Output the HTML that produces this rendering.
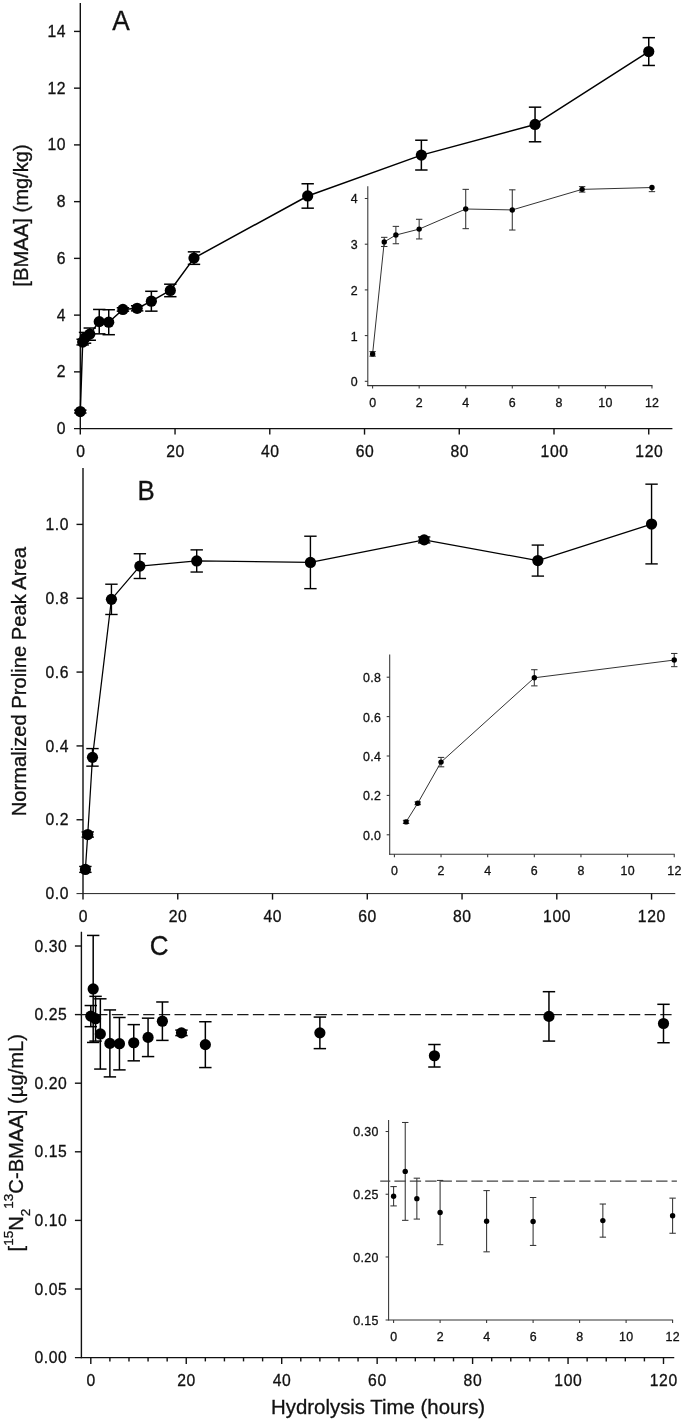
<!DOCTYPE html>
<html lang="en">
<head>
<meta charset="utf-8">
<title>BMAA hydrolysis time course</title>
<style>
html,body{margin:0;padding:0;background:#fff;}
body{width:685px;height:1422px;overflow:hidden;}
svg{display:block;font-family:"Liberation Sans", Arial, Helvetica, sans-serif;}
text{stroke:#111;stroke-width:0.3px;}
</style>
</head>
<body>
<svg width="685" height="1422" viewBox="0 0 685 1422">
<rect x="0" y="0" width="685" height="1422" fill="#fff"/>
<line x1="80.3" y1="3.05" x2="80.3" y2="429.25" stroke="#111" stroke-width="1.4"/>
<line x1="74" y1="428.6" x2="672.42" y2="428.6" stroke="#111" stroke-width="1.4"/>
<text x="65.6" y="434" font-size="15.7" text-anchor="end" fill="#111">0</text>
<line x1="74" y1="371.86" x2="80.3" y2="371.86" stroke="#111" stroke-width="1.4"/>
<text x="65.6" y="377.26" font-size="15.7" text-anchor="end" fill="#111">2</text>
<line x1="74" y1="315.12" x2="80.3" y2="315.12" stroke="#111" stroke-width="1.4"/>
<text x="65.6" y="320.52" font-size="15.7" text-anchor="end" fill="#111">4</text>
<line x1="74" y1="258.38" x2="80.3" y2="258.38" stroke="#111" stroke-width="1.4"/>
<text x="65.6" y="263.78" font-size="15.7" text-anchor="end" fill="#111">6</text>
<line x1="74" y1="201.64" x2="80.3" y2="201.64" stroke="#111" stroke-width="1.4"/>
<text x="65.6" y="207.04" font-size="15.7" text-anchor="end" fill="#111">8</text>
<line x1="74" y1="144.9" x2="80.3" y2="144.9" stroke="#111" stroke-width="1.4"/>
<text x="66.2" y="150.3" font-size="15.7" text-anchor="end" fill="#111" letter-spacing="0.6">10</text>
<line x1="74" y1="88.16" x2="80.3" y2="88.16" stroke="#111" stroke-width="1.4"/>
<text x="66.2" y="93.56" font-size="15.7" text-anchor="end" fill="#111" letter-spacing="0.6">12</text>
<line x1="74" y1="31.42" x2="80.3" y2="31.42" stroke="#111" stroke-width="1.4"/>
<text x="66.2" y="36.82" font-size="15.7" text-anchor="end" fill="#111" letter-spacing="0.6">14</text>
<line x1="80.3" y1="428.6" x2="80.3" y2="434.6" stroke="#111" stroke-width="1.4"/>
<text x="80.6" y="457" font-size="15.7" text-anchor="middle" fill="#111">0</text>
<line x1="175.04" y1="428.6" x2="175.04" y2="434.6" stroke="#111" stroke-width="1.4"/>
<text x="175.64" y="457" font-size="15.7" text-anchor="middle" fill="#111" letter-spacing="0.6">20</text>
<line x1="269.78" y1="428.6" x2="269.78" y2="434.6" stroke="#111" stroke-width="1.4"/>
<text x="270.38" y="457" font-size="15.7" text-anchor="middle" fill="#111" letter-spacing="0.6">40</text>
<line x1="364.52" y1="428.6" x2="364.52" y2="434.6" stroke="#111" stroke-width="1.4"/>
<text x="365.12" y="457" font-size="15.7" text-anchor="middle" fill="#111" letter-spacing="0.6">60</text>
<line x1="459.26" y1="428.6" x2="459.26" y2="434.6" stroke="#111" stroke-width="1.4"/>
<text x="459.86" y="457" font-size="15.7" text-anchor="middle" fill="#111" letter-spacing="0.6">80</text>
<line x1="554" y1="428.6" x2="554" y2="434.6" stroke="#111" stroke-width="1.4"/>
<text x="554.6" y="457" font-size="15.7" text-anchor="middle" fill="#111" letter-spacing="0.6">100</text>
<line x1="648.74" y1="428.6" x2="648.74" y2="434.6" stroke="#111" stroke-width="1.4"/>
<text x="649.34" y="457" font-size="15.7" text-anchor="middle" fill="#111" letter-spacing="0.6">120</text>
<text transform="translate(121.1 30.4) scale(0.99 1.055)" font-size="26.5" text-anchor="middle" fill="#111">A</text>
<text transform="translate(27.6 215.4) rotate(-90)" font-size="20.2" text-anchor="middle" fill="#111">[BMAA] (mg/kg)</text>
<line x1="80.3" y1="410.16" x2="80.3" y2="413" stroke="#000" stroke-width="1.5"/>
<line x1="74.1" y1="410.16" x2="86.5" y2="410.16" stroke="#000" stroke-width="1.5"/>
<line x1="74.1" y1="413" x2="86.5" y2="413" stroke="#000" stroke-width="1.5"/>
<line x1="82.67" y1="339.23" x2="82.67" y2="344.91" stroke="#000" stroke-width="1.5"/>
<line x1="76.47" y1="339.23" x2="88.87" y2="339.23" stroke="#000" stroke-width="1.5"/>
<line x1="76.47" y1="344.91" x2="88.87" y2="344.91" stroke="#000" stroke-width="1.5"/>
<line x1="85.04" y1="332.43" x2="85.04" y2="343.21" stroke="#000" stroke-width="1.5"/>
<line x1="78.84" y1="332.43" x2="91.24" y2="332.43" stroke="#000" stroke-width="1.5"/>
<line x1="78.84" y1="343.21" x2="91.24" y2="343.21" stroke="#000" stroke-width="1.5"/>
<line x1="89.77" y1="328.03" x2="89.77" y2="340.23" stroke="#000" stroke-width="1.5"/>
<line x1="83.57" y1="328.03" x2="95.97" y2="328.03" stroke="#000" stroke-width="1.5"/>
<line x1="83.57" y1="340.23" x2="95.97" y2="340.23" stroke="#000" stroke-width="1.5"/>
<line x1="99.25" y1="309.45" x2="99.25" y2="333.84" stroke="#000" stroke-width="1.5"/>
<line x1="93.05" y1="309.45" x2="105.45" y2="309.45" stroke="#000" stroke-width="1.5"/>
<line x1="93.05" y1="333.84" x2="105.45" y2="333.84" stroke="#000" stroke-width="1.5"/>
<line x1="108.72" y1="309.73" x2="108.72" y2="334.7" stroke="#000" stroke-width="1.5"/>
<line x1="102.52" y1="309.73" x2="114.92" y2="309.73" stroke="#000" stroke-width="1.5"/>
<line x1="102.52" y1="334.7" x2="114.92" y2="334.7" stroke="#000" stroke-width="1.5"/>
<line x1="122.93" y1="307.74" x2="122.93" y2="311.15" stroke="#000" stroke-width="1.5"/>
<line x1="116.73" y1="307.74" x2="129.13" y2="307.74" stroke="#000" stroke-width="1.5"/>
<line x1="116.73" y1="311.15" x2="129.13" y2="311.15" stroke="#000" stroke-width="1.5"/>
<line x1="137.14" y1="305.76" x2="137.14" y2="310.86" stroke="#000" stroke-width="1.5"/>
<line x1="130.94" y1="305.76" x2="143.34" y2="305.76" stroke="#000" stroke-width="1.5"/>
<line x1="130.94" y1="310.86" x2="143.34" y2="310.86" stroke="#000" stroke-width="1.5"/>
<line x1="151.36" y1="291.29" x2="151.36" y2="311.15" stroke="#000" stroke-width="1.5"/>
<line x1="145.16" y1="291.29" x2="157.56" y2="291.29" stroke="#000" stroke-width="1.5"/>
<line x1="145.16" y1="311.15" x2="157.56" y2="311.15" stroke="#000" stroke-width="1.5"/>
<line x1="170.3" y1="284.2" x2="170.3" y2="296.68" stroke="#000" stroke-width="1.5"/>
<line x1="164.1" y1="284.2" x2="176.5" y2="284.2" stroke="#000" stroke-width="1.5"/>
<line x1="164.1" y1="296.68" x2="176.5" y2="296.68" stroke="#000" stroke-width="1.5"/>
<line x1="193.99" y1="251.85" x2="193.99" y2="264.34" stroke="#000" stroke-width="1.5"/>
<line x1="187.79" y1="251.85" x2="200.19" y2="251.85" stroke="#000" stroke-width="1.5"/>
<line x1="187.79" y1="264.34" x2="200.19" y2="264.34" stroke="#000" stroke-width="1.5"/>
<line x1="307.68" y1="183.77" x2="307.68" y2="208.17" stroke="#000" stroke-width="1.5"/>
<line x1="301.48" y1="183.77" x2="313.88" y2="183.77" stroke="#000" stroke-width="1.5"/>
<line x1="301.48" y1="208.17" x2="313.88" y2="208.17" stroke="#000" stroke-width="1.5"/>
<line x1="421.36" y1="140.22" x2="421.36" y2="170.01" stroke="#000" stroke-width="1.5"/>
<line x1="415.16" y1="140.22" x2="427.56" y2="140.22" stroke="#000" stroke-width="1.5"/>
<line x1="415.16" y1="170.01" x2="427.56" y2="170.01" stroke="#000" stroke-width="1.5"/>
<line x1="535.05" y1="107.17" x2="535.05" y2="141.78" stroke="#000" stroke-width="1.5"/>
<line x1="528.85" y1="107.17" x2="541.25" y2="107.17" stroke="#000" stroke-width="1.5"/>
<line x1="528.85" y1="141.78" x2="541.25" y2="141.78" stroke="#000" stroke-width="1.5"/>
<line x1="648.74" y1="37.66" x2="648.74" y2="65.46" stroke="#000" stroke-width="1.5"/>
<line x1="642.54" y1="37.66" x2="654.94" y2="37.66" stroke="#000" stroke-width="1.5"/>
<line x1="642.54" y1="65.46" x2="654.94" y2="65.46" stroke="#000" stroke-width="1.5"/>
<polyline points="80.3,411.58 82.67,342.07 85.04,337.82 89.77,334.13 99.25,321.65 108.72,322.21 122.93,309.45 137.14,308.31 151.36,301.22 170.3,290.44 193.99,258.1 307.68,195.97 421.36,155.11 535.05,124.47 648.74,51.56" fill="none" stroke="#000" stroke-width="1.5" stroke-linejoin="round"/>
<circle cx="80.3" cy="411.58" r="5.6" fill="#000"/>
<circle cx="82.67" cy="342.07" r="5.6" fill="#000"/>
<circle cx="85.04" cy="337.82" r="5.6" fill="#000"/>
<circle cx="89.77" cy="334.13" r="5.6" fill="#000"/>
<circle cx="99.25" cy="321.65" r="5.6" fill="#000"/>
<circle cx="108.72" cy="322.21" r="5.6" fill="#000"/>
<circle cx="122.93" cy="309.45" r="5.6" fill="#000"/>
<circle cx="137.14" cy="308.31" r="5.6" fill="#000"/>
<circle cx="151.36" cy="301.22" r="5.6" fill="#000"/>
<circle cx="170.3" cy="290.44" r="5.6" fill="#000"/>
<circle cx="193.99" cy="258.1" r="5.6" fill="#000"/>
<circle cx="307.68" cy="195.97" r="5.6" fill="#000"/>
<circle cx="421.36" cy="155.11" r="5.6" fill="#000"/>
<circle cx="535.05" cy="124.47" r="5.6" fill="#000"/>
<circle cx="648.74" cy="51.56" r="5.6" fill="#000"/>
<line x1="367.8" y1="186.2" x2="367.8" y2="386.1" stroke="#333" stroke-width="1.05"/>
<line x1="367.3" y1="385.6" x2="652.46" y2="385.6" stroke="#333" stroke-width="1.05"/>
<line x1="364.8" y1="381.3" x2="367.8" y2="381.3" stroke="#333" stroke-width="1.05"/>
<text x="357.6" y="386.2" font-size="12.4" text-anchor="end" fill="#111">0</text>
<line x1="364.8" y1="335.6" x2="367.8" y2="335.6" stroke="#333" stroke-width="1.05"/>
<text x="357.6" y="340.5" font-size="12.4" text-anchor="end" fill="#111">1</text>
<line x1="364.8" y1="289.9" x2="367.8" y2="289.9" stroke="#333" stroke-width="1.05"/>
<text x="357.6" y="294.8" font-size="12.4" text-anchor="end" fill="#111">2</text>
<line x1="364.8" y1="244.2" x2="367.8" y2="244.2" stroke="#333" stroke-width="1.05"/>
<text x="357.6" y="249.1" font-size="12.4" text-anchor="end" fill="#111">3</text>
<line x1="364.8" y1="198.5" x2="367.8" y2="198.5" stroke="#333" stroke-width="1.05"/>
<text x="357.6" y="203.4" font-size="12.4" text-anchor="end" fill="#111">4</text>
<line x1="372.6" y1="385.6" x2="372.6" y2="388.6" stroke="#333" stroke-width="1.05"/>
<text x="372.6" y="407.2" font-size="12.4" text-anchor="middle" fill="#111">0</text>
<line x1="419.16" y1="385.6" x2="419.16" y2="388.6" stroke="#333" stroke-width="1.05"/>
<text x="419.16" y="407.2" font-size="12.4" text-anchor="middle" fill="#111">2</text>
<line x1="465.72" y1="385.6" x2="465.72" y2="388.6" stroke="#333" stroke-width="1.05"/>
<text x="465.72" y="407.2" font-size="12.4" text-anchor="middle" fill="#111">4</text>
<line x1="512.28" y1="385.6" x2="512.28" y2="388.6" stroke="#333" stroke-width="1.05"/>
<text x="512.28" y="407.2" font-size="12.4" text-anchor="middle" fill="#111">6</text>
<line x1="558.84" y1="385.6" x2="558.84" y2="388.6" stroke="#333" stroke-width="1.05"/>
<text x="558.84" y="407.2" font-size="12.4" text-anchor="middle" fill="#111">8</text>
<line x1="605.4" y1="385.6" x2="605.4" y2="388.6" stroke="#333" stroke-width="1.05"/>
<text x="605.55" y="407.2" font-size="12.4" text-anchor="middle" fill="#111" letter-spacing="0.3">10</text>
<line x1="651.96" y1="385.6" x2="651.96" y2="388.6" stroke="#333" stroke-width="1.05"/>
<text x="652.11" y="407.2" font-size="12.4" text-anchor="middle" fill="#111" letter-spacing="0.3">12</text>
<line x1="372.6" y1="351.6" x2="372.6" y2="356.17" stroke="#333" stroke-width="1.05"/>
<line x1="369.4" y1="351.6" x2="375.8" y2="351.6" stroke="#333" stroke-width="1.05"/>
<line x1="369.4" y1="356.17" x2="375.8" y2="356.17" stroke="#333" stroke-width="1.05"/>
<line x1="384.24" y1="237.34" x2="384.24" y2="246.49" stroke="#333" stroke-width="1.05"/>
<line x1="381.04" y1="237.34" x2="387.44" y2="237.34" stroke="#333" stroke-width="1.05"/>
<line x1="381.04" y1="246.49" x2="387.44" y2="246.49" stroke="#333" stroke-width="1.05"/>
<line x1="395.88" y1="226.38" x2="395.88" y2="243.74" stroke="#333" stroke-width="1.05"/>
<line x1="392.68" y1="226.38" x2="399.08" y2="226.38" stroke="#333" stroke-width="1.05"/>
<line x1="392.68" y1="243.74" x2="399.08" y2="243.74" stroke="#333" stroke-width="1.05"/>
<line x1="419.16" y1="219.29" x2="419.16" y2="238.94" stroke="#333" stroke-width="1.05"/>
<line x1="415.96" y1="219.29" x2="422.36" y2="219.29" stroke="#333" stroke-width="1.05"/>
<line x1="415.96" y1="238.94" x2="422.36" y2="238.94" stroke="#333" stroke-width="1.05"/>
<line x1="465.72" y1="189.36" x2="465.72" y2="228.66" stroke="#333" stroke-width="1.05"/>
<line x1="462.52" y1="189.36" x2="468.92" y2="189.36" stroke="#333" stroke-width="1.05"/>
<line x1="462.52" y1="228.66" x2="468.92" y2="228.66" stroke="#333" stroke-width="1.05"/>
<line x1="512.28" y1="189.82" x2="512.28" y2="230.03" stroke="#333" stroke-width="1.05"/>
<line x1="509.08" y1="189.82" x2="515.48" y2="189.82" stroke="#333" stroke-width="1.05"/>
<line x1="509.08" y1="230.03" x2="515.48" y2="230.03" stroke="#333" stroke-width="1.05"/>
<line x1="582.12" y1="186.62" x2="582.12" y2="192.1" stroke="#333" stroke-width="1.05"/>
<line x1="578.92" y1="186.62" x2="585.32" y2="186.62" stroke="#333" stroke-width="1.05"/>
<line x1="578.92" y1="192.1" x2="585.32" y2="192.1" stroke="#333" stroke-width="1.05"/>
<line x1="651.96" y1="187.53" x2="651.96" y2="191.64" stroke="#333" stroke-width="1.05"/>
<line x1="648.76" y1="191.64" x2="655.16" y2="191.64" stroke="#333" stroke-width="1.05"/>
<polyline points="372.6,353.88 384.24,241.92 395.88,235.06 419.16,229.12 465.72,209.01 512.28,209.93 582.12,189.36 651.96,187.53" fill="none" stroke="#333" stroke-width="1" stroke-linejoin="round"/>
<circle cx="372.6" cy="353.88" r="2.7" fill="#000"/>
<circle cx="384.24" cy="241.92" r="2.7" fill="#000"/>
<circle cx="395.88" cy="235.06" r="2.7" fill="#000"/>
<circle cx="419.16" cy="229.12" r="2.7" fill="#000"/>
<circle cx="465.72" cy="209.01" r="2.7" fill="#000"/>
<circle cx="512.28" cy="209.93" r="2.7" fill="#000"/>
<circle cx="582.12" cy="189.36" r="2.7" fill="#000"/>
<circle cx="651.96" cy="187.53" r="2.7" fill="#000"/>
<line x1="83" y1="468" x2="83" y2="899.6" stroke="#111" stroke-width="1.4"/>
<line x1="76.5" y1="893.6" x2="675.25" y2="893.6" stroke="#222" stroke-width="1"/>
<text x="69.1" y="899.2" font-size="15.7" text-anchor="end" fill="#111" letter-spacing="0.6">0.0</text>
<line x1="76.5" y1="819.76" x2="83" y2="819.76" stroke="#111" stroke-width="1.4"/>
<text x="69.1" y="825.36" font-size="15.7" text-anchor="end" fill="#111" letter-spacing="0.6">0.2</text>
<line x1="76.5" y1="745.92" x2="83" y2="745.92" stroke="#111" stroke-width="1.4"/>
<text x="69.1" y="751.52" font-size="15.7" text-anchor="end" fill="#111" letter-spacing="0.6">0.4</text>
<line x1="76.5" y1="672.08" x2="83" y2="672.08" stroke="#111" stroke-width="1.4"/>
<text x="69.1" y="677.68" font-size="15.7" text-anchor="end" fill="#111" letter-spacing="0.6">0.6</text>
<line x1="76.5" y1="598.24" x2="83" y2="598.24" stroke="#111" stroke-width="1.4"/>
<text x="69.1" y="603.84" font-size="15.7" text-anchor="end" fill="#111" letter-spacing="0.6">0.8</text>
<line x1="76.5" y1="524.4" x2="83" y2="524.4" stroke="#111" stroke-width="1.4"/>
<text x="69.1" y="530" font-size="15.7" text-anchor="end" fill="#111" letter-spacing="0.6">1.0</text>
<text x="83" y="922.3" font-size="15.7" text-anchor="middle" fill="#111">0</text>
<line x1="177.76" y1="893.6" x2="177.76" y2="899.6" stroke="#111" stroke-width="1.4"/>
<text x="178.06" y="922.3" font-size="15.7" text-anchor="middle" fill="#111" letter-spacing="0.6">20</text>
<line x1="272.52" y1="893.6" x2="272.52" y2="899.6" stroke="#111" stroke-width="1.4"/>
<text x="272.82" y="922.3" font-size="15.7" text-anchor="middle" fill="#111" letter-spacing="0.6">40</text>
<line x1="367.28" y1="893.6" x2="367.28" y2="899.6" stroke="#111" stroke-width="1.4"/>
<text x="367.58" y="922.3" font-size="15.7" text-anchor="middle" fill="#111" letter-spacing="0.6">60</text>
<line x1="462.04" y1="893.6" x2="462.04" y2="899.6" stroke="#111" stroke-width="1.4"/>
<text x="462.34" y="922.3" font-size="15.7" text-anchor="middle" fill="#111" letter-spacing="0.6">80</text>
<line x1="556.8" y1="893.6" x2="556.8" y2="899.6" stroke="#111" stroke-width="1.4"/>
<text x="557.1" y="922.3" font-size="15.7" text-anchor="middle" fill="#111" letter-spacing="0.6">100</text>
<line x1="651.56" y1="893.6" x2="651.56" y2="899.6" stroke="#111" stroke-width="1.4"/>
<text x="651.86" y="922.3" font-size="15.7" text-anchor="middle" fill="#111" letter-spacing="0.6">120</text>
<text transform="translate(146 499.7) scale(0.975 1.03)" font-size="26.5" text-anchor="middle" fill="#111">B</text>
<text transform="translate(26.1 681.7) rotate(-90)" font-size="20.2" text-anchor="middle" fill="#111">Normalized Proline Peak Area</text>
<line x1="85.37" y1="866.46" x2="85.37" y2="872.37" stroke="#000" stroke-width="1.4"/>
<line x1="79.17" y1="866.46" x2="91.57" y2="866.46" stroke="#000" stroke-width="1.4"/>
<line x1="79.17" y1="872.37" x2="91.57" y2="872.37" stroke="#000" stroke-width="1.4"/>
<line x1="87.74" y1="831.94" x2="87.74" y2="837.11" stroke="#000" stroke-width="1.4"/>
<line x1="81.54" y1="831.94" x2="93.94" y2="831.94" stroke="#000" stroke-width="1.4"/>
<line x1="81.54" y1="837.11" x2="93.94" y2="837.11" stroke="#000" stroke-width="1.4"/>
<line x1="92.48" y1="748.58" x2="92.48" y2="766.15" stroke="#000" stroke-width="1.4"/>
<line x1="86.28" y1="748.58" x2="98.68" y2="748.58" stroke="#000" stroke-width="1.4"/>
<line x1="86.28" y1="766.15" x2="98.68" y2="766.15" stroke="#000" stroke-width="1.4"/>
<line x1="111.43" y1="584.21" x2="111.43" y2="614.48" stroke="#000" stroke-width="1.4"/>
<line x1="105.23" y1="584.21" x2="117.63" y2="584.21" stroke="#000" stroke-width="1.4"/>
<line x1="105.23" y1="614.48" x2="117.63" y2="614.48" stroke="#000" stroke-width="1.4"/>
<line x1="139.86" y1="553.75" x2="139.86" y2="578.49" stroke="#000" stroke-width="1.4"/>
<line x1="133.66" y1="553.75" x2="146.06" y2="553.75" stroke="#000" stroke-width="1.4"/>
<line x1="133.66" y1="578.49" x2="146.06" y2="578.49" stroke="#000" stroke-width="1.4"/>
<line x1="196.71" y1="549.87" x2="196.71" y2="572.03" stroke="#000" stroke-width="1.4"/>
<line x1="190.51" y1="549.87" x2="202.91" y2="549.87" stroke="#000" stroke-width="1.4"/>
<line x1="190.51" y1="572.03" x2="202.91" y2="572.03" stroke="#000" stroke-width="1.4"/>
<line x1="310.42" y1="536.21" x2="310.42" y2="588.64" stroke="#000" stroke-width="1.4"/>
<line x1="304.22" y1="536.21" x2="316.62" y2="536.21" stroke="#000" stroke-width="1.4"/>
<line x1="304.22" y1="588.64" x2="316.62" y2="588.64" stroke="#000" stroke-width="1.4"/>
<line x1="424.14" y1="536.95" x2="424.14" y2="542.86" stroke="#000" stroke-width="1.4"/>
<line x1="417.94" y1="536.95" x2="430.34" y2="536.95" stroke="#000" stroke-width="1.4"/>
<line x1="417.94" y1="542.86" x2="430.34" y2="542.86" stroke="#000" stroke-width="1.4"/>
<line x1="537.85" y1="545.08" x2="537.85" y2="576.09" stroke="#000" stroke-width="1.4"/>
<line x1="531.65" y1="545.08" x2="544.05" y2="545.08" stroke="#000" stroke-width="1.4"/>
<line x1="531.65" y1="576.09" x2="544.05" y2="576.09" stroke="#000" stroke-width="1.4"/>
<line x1="651.56" y1="484.16" x2="651.56" y2="563.9" stroke="#000" stroke-width="1.4"/>
<line x1="645.36" y1="484.16" x2="657.76" y2="484.16" stroke="#000" stroke-width="1.4"/>
<line x1="645.36" y1="563.9" x2="657.76" y2="563.9" stroke="#000" stroke-width="1.4"/>
<polyline points="85.37,869.42 87.74,834.53 92.48,757.37 111.43,599.35 139.86,566.12 196.71,560.95 310.42,562.43 424.14,539.91 537.85,560.58 651.56,524.03" fill="none" stroke="#000" stroke-width="1.25" stroke-linejoin="round"/>
<circle cx="85.37" cy="869.42" r="5.6" fill="#000"/>
<circle cx="87.74" cy="834.53" r="5.6" fill="#000"/>
<circle cx="92.48" cy="757.37" r="5.6" fill="#000"/>
<circle cx="111.43" cy="599.35" r="5.6" fill="#000"/>
<circle cx="139.86" cy="566.12" r="5.6" fill="#000"/>
<circle cx="196.71" cy="560.95" r="5.6" fill="#000"/>
<circle cx="310.42" cy="562.43" r="5.6" fill="#000"/>
<circle cx="424.14" cy="539.91" r="5.6" fill="#000"/>
<circle cx="537.85" cy="560.58" r="5.6" fill="#000"/>
<circle cx="651.56" cy="524.03" r="5.6" fill="#000"/>
<line x1="389.7" y1="654.4" x2="389.7" y2="854.8" stroke="#333" stroke-width="1.05"/>
<line x1="389.2" y1="854.3" x2="674.74" y2="854.3" stroke="#333" stroke-width="1.05"/>
<line x1="386.7" y1="834.8" x2="389.7" y2="834.8" stroke="#333" stroke-width="1.05"/>
<text x="381.1" y="839.7" font-size="12.4" text-anchor="end" fill="#111" letter-spacing="0.3">0.0</text>
<line x1="386.7" y1="795.4" x2="389.7" y2="795.4" stroke="#333" stroke-width="1.05"/>
<text x="381.1" y="800.3" font-size="12.4" text-anchor="end" fill="#111" letter-spacing="0.3">0.2</text>
<line x1="386.7" y1="756" x2="389.7" y2="756" stroke="#333" stroke-width="1.05"/>
<text x="381.1" y="760.9" font-size="12.4" text-anchor="end" fill="#111" letter-spacing="0.3">0.4</text>
<line x1="386.7" y1="716.6" x2="389.7" y2="716.6" stroke="#333" stroke-width="1.05"/>
<text x="381.1" y="721.5" font-size="12.4" text-anchor="end" fill="#111" letter-spacing="0.3">0.6</text>
<line x1="386.7" y1="677.2" x2="389.7" y2="677.2" stroke="#333" stroke-width="1.05"/>
<text x="381.1" y="682.1" font-size="12.4" text-anchor="end" fill="#111" letter-spacing="0.3">0.8</text>
<line x1="394.4" y1="854.3" x2="394.4" y2="857.3" stroke="#333" stroke-width="1.05"/>
<text x="394.4" y="875" font-size="12.4" text-anchor="middle" fill="#111">0</text>
<line x1="441.04" y1="854.3" x2="441.04" y2="857.3" stroke="#333" stroke-width="1.05"/>
<text x="441.04" y="875" font-size="12.4" text-anchor="middle" fill="#111">2</text>
<line x1="487.68" y1="854.3" x2="487.68" y2="857.3" stroke="#333" stroke-width="1.05"/>
<text x="487.68" y="875" font-size="12.4" text-anchor="middle" fill="#111">4</text>
<line x1="534.32" y1="854.3" x2="534.32" y2="857.3" stroke="#333" stroke-width="1.05"/>
<text x="534.32" y="875" font-size="12.4" text-anchor="middle" fill="#111">6</text>
<line x1="580.96" y1="854.3" x2="580.96" y2="857.3" stroke="#333" stroke-width="1.05"/>
<text x="580.96" y="875" font-size="12.4" text-anchor="middle" fill="#111">8</text>
<line x1="627.6" y1="854.3" x2="627.6" y2="857.3" stroke="#333" stroke-width="1.05"/>
<text x="627.75" y="875" font-size="12.4" text-anchor="middle" fill="#111" letter-spacing="0.3">10</text>
<line x1="674.24" y1="854.3" x2="674.24" y2="857.3" stroke="#333" stroke-width="1.05"/>
<text x="674.39" y="875" font-size="12.4" text-anchor="middle" fill="#111" letter-spacing="0.3">12</text>
<line x1="406.06" y1="820.32" x2="406.06" y2="823.47" stroke="#333" stroke-width="1.05"/>
<line x1="402.86" y1="820.32" x2="409.26" y2="820.32" stroke="#333" stroke-width="1.05"/>
<line x1="402.86" y1="823.47" x2="409.26" y2="823.47" stroke="#333" stroke-width="1.05"/>
<line x1="417.72" y1="801.9" x2="417.72" y2="804.66" stroke="#333" stroke-width="1.05"/>
<line x1="414.52" y1="801.9" x2="420.92" y2="801.9" stroke="#333" stroke-width="1.05"/>
<line x1="414.52" y1="804.66" x2="420.92" y2="804.66" stroke="#333" stroke-width="1.05"/>
<line x1="441.04" y1="757.42" x2="441.04" y2="766.8" stroke="#333" stroke-width="1.05"/>
<line x1="437.84" y1="757.42" x2="444.24" y2="757.42" stroke="#333" stroke-width="1.05"/>
<line x1="437.84" y1="766.8" x2="444.24" y2="766.8" stroke="#333" stroke-width="1.05"/>
<line x1="534.32" y1="669.71" x2="534.32" y2="685.87" stroke="#333" stroke-width="1.05"/>
<line x1="531.12" y1="669.71" x2="537.52" y2="669.71" stroke="#333" stroke-width="1.05"/>
<line x1="531.12" y1="685.87" x2="537.52" y2="685.87" stroke="#333" stroke-width="1.05"/>
<line x1="674.24" y1="653.46" x2="674.24" y2="666.66" stroke="#333" stroke-width="1.05"/>
<line x1="671.04" y1="653.46" x2="677.44" y2="653.46" stroke="#333" stroke-width="1.05"/>
<line x1="671.04" y1="666.66" x2="677.44" y2="666.66" stroke="#333" stroke-width="1.05"/>
<polyline points="406.06,821.9 417.72,803.28 441.04,762.11 534.32,677.79 674.24,660.06" fill="none" stroke="#333" stroke-width="1" stroke-linejoin="round"/>
<circle cx="406.06" cy="821.9" r="2.7" fill="#000"/>
<circle cx="417.72" cy="803.28" r="2.7" fill="#000"/>
<circle cx="441.04" cy="762.11" r="2.7" fill="#000"/>
<circle cx="534.32" cy="677.79" r="2.7" fill="#000"/>
<circle cx="674.24" cy="660.06" r="2.7" fill="#000"/>
<line x1="81.4" y1="931.87" x2="81.4" y2="1358.25" stroke="#111" stroke-width="1.4"/>
<line x1="74.9" y1="1357.6" x2="674.25" y2="1357.6" stroke="#111" stroke-width="1.4"/>
<text x="67.4" y="1363.2" font-size="15.7" text-anchor="end" fill="#111" letter-spacing="0.6">0.00</text>
<line x1="74.9" y1="1289" x2="81.4" y2="1289" stroke="#111" stroke-width="1.4"/>
<text x="67.4" y="1294.6" font-size="15.7" text-anchor="end" fill="#111" letter-spacing="0.6">0.05</text>
<line x1="74.9" y1="1220.4" x2="81.4" y2="1220.4" stroke="#111" stroke-width="1.4"/>
<text x="67.4" y="1226" font-size="15.7" text-anchor="end" fill="#111" letter-spacing="0.6">0.10</text>
<line x1="74.9" y1="1151.8" x2="81.4" y2="1151.8" stroke="#111" stroke-width="1.4"/>
<text x="67.4" y="1157.4" font-size="15.7" text-anchor="end" fill="#111" letter-spacing="0.6">0.15</text>
<line x1="74.9" y1="1083.2" x2="81.4" y2="1083.2" stroke="#111" stroke-width="1.4"/>
<text x="67.4" y="1088.8" font-size="15.7" text-anchor="end" fill="#111" letter-spacing="0.6">0.20</text>
<line x1="74.9" y1="1014.6" x2="81.4" y2="1014.6" stroke="#111" stroke-width="1.4"/>
<text x="67.4" y="1020.2" font-size="15.7" text-anchor="end" fill="#111" letter-spacing="0.6">0.25</text>
<line x1="74.9" y1="946" x2="81.4" y2="946" stroke="#111" stroke-width="1.4"/>
<text x="67.4" y="951.6" font-size="15.7" text-anchor="end" fill="#111" letter-spacing="0.6">0.30</text>
<line x1="90.8" y1="1357.6" x2="90.8" y2="1364" stroke="#111" stroke-width="1.4"/>
<text x="90.8" y="1386.4" font-size="15.7" text-anchor="middle" fill="#111">0</text>
<line x1="109.89" y1="1357.6" x2="109.89" y2="1361.4" stroke="#111" stroke-width="1.4"/>
<line x1="128.98" y1="1357.6" x2="128.98" y2="1361.4" stroke="#111" stroke-width="1.4"/>
<line x1="148.07" y1="1357.6" x2="148.07" y2="1361.4" stroke="#111" stroke-width="1.4"/>
<line x1="167.16" y1="1357.6" x2="167.16" y2="1361.4" stroke="#111" stroke-width="1.4"/>
<line x1="186.25" y1="1357.6" x2="186.25" y2="1364" stroke="#111" stroke-width="1.4"/>
<text x="186.55" y="1386.4" font-size="15.7" text-anchor="middle" fill="#111" letter-spacing="0.6">20</text>
<line x1="205.34" y1="1357.6" x2="205.34" y2="1361.4" stroke="#111" stroke-width="1.4"/>
<line x1="224.43" y1="1357.6" x2="224.43" y2="1361.4" stroke="#111" stroke-width="1.4"/>
<line x1="243.52" y1="1357.6" x2="243.52" y2="1361.4" stroke="#111" stroke-width="1.4"/>
<line x1="262.61" y1="1357.6" x2="262.61" y2="1361.4" stroke="#111" stroke-width="1.4"/>
<line x1="281.7" y1="1357.6" x2="281.7" y2="1364" stroke="#111" stroke-width="1.4"/>
<text x="282" y="1386.4" font-size="15.7" text-anchor="middle" fill="#111" letter-spacing="0.6">40</text>
<line x1="300.79" y1="1357.6" x2="300.79" y2="1361.4" stroke="#111" stroke-width="1.4"/>
<line x1="319.88" y1="1357.6" x2="319.88" y2="1361.4" stroke="#111" stroke-width="1.4"/>
<line x1="338.97" y1="1357.6" x2="338.97" y2="1361.4" stroke="#111" stroke-width="1.4"/>
<line x1="358.06" y1="1357.6" x2="358.06" y2="1361.4" stroke="#111" stroke-width="1.4"/>
<line x1="377.15" y1="1357.6" x2="377.15" y2="1364" stroke="#111" stroke-width="1.4"/>
<text x="377.45" y="1386.4" font-size="15.7" text-anchor="middle" fill="#111" letter-spacing="0.6">60</text>
<line x1="396.24" y1="1357.6" x2="396.24" y2="1361.4" stroke="#111" stroke-width="1.4"/>
<line x1="415.33" y1="1357.6" x2="415.33" y2="1361.4" stroke="#111" stroke-width="1.4"/>
<line x1="434.42" y1="1357.6" x2="434.42" y2="1361.4" stroke="#111" stroke-width="1.4"/>
<line x1="453.51" y1="1357.6" x2="453.51" y2="1361.4" stroke="#111" stroke-width="1.4"/>
<line x1="472.6" y1="1357.6" x2="472.6" y2="1364" stroke="#111" stroke-width="1.4"/>
<text x="472.9" y="1386.4" font-size="15.7" text-anchor="middle" fill="#111" letter-spacing="0.6">80</text>
<line x1="491.69" y1="1357.6" x2="491.69" y2="1361.4" stroke="#111" stroke-width="1.4"/>
<line x1="510.78" y1="1357.6" x2="510.78" y2="1361.4" stroke="#111" stroke-width="1.4"/>
<line x1="529.87" y1="1357.6" x2="529.87" y2="1361.4" stroke="#111" stroke-width="1.4"/>
<line x1="548.96" y1="1357.6" x2="548.96" y2="1361.4" stroke="#111" stroke-width="1.4"/>
<line x1="568.05" y1="1357.6" x2="568.05" y2="1364" stroke="#111" stroke-width="1.4"/>
<text x="568.35" y="1386.4" font-size="15.7" text-anchor="middle" fill="#111" letter-spacing="0.6">100</text>
<line x1="587.14" y1="1357.6" x2="587.14" y2="1361.4" stroke="#111" stroke-width="1.4"/>
<line x1="606.23" y1="1357.6" x2="606.23" y2="1361.4" stroke="#111" stroke-width="1.4"/>
<line x1="625.32" y1="1357.6" x2="625.32" y2="1361.4" stroke="#111" stroke-width="1.4"/>
<line x1="644.41" y1="1357.6" x2="644.41" y2="1361.4" stroke="#111" stroke-width="1.4"/>
<line x1="663.5" y1="1357.6" x2="663.5" y2="1364" stroke="#111" stroke-width="1.4"/>
<text x="663.8" y="1386.4" font-size="15.7" text-anchor="middle" fill="#111" letter-spacing="0.6">120</text>
<text transform="translate(159.1 955.4) scale(0.98 1.055)" font-size="26.5" text-anchor="middle" fill="#111">C</text>
<text transform="translate(23.1 1142.7) rotate(-90)" font-size="20.2" text-anchor="middle" fill="#111">[<tspan font-size="13.5" dy="-9.7">15</tspan><tspan dy="9.7">N</tspan><tspan font-size="13.5" dy="7.3">2</tspan><tspan font-size="13.5" dy="-17">13</tspan><tspan dy="9.7">C-BMAA] (µg/mL)</tspan></text>
<text x="378.1" y="1413.5" font-size="20.4" text-anchor="middle" fill="#111">Hydrolysis Time (hours)</text>
<line x1="80.5" y1="1014.6" x2="671.7" y2="1014.6" stroke="#1a1a1a" stroke-width="1.45" stroke-dasharray="11.3 4.37"/>
<line x1="90.8" y1="1005.54" x2="90.8" y2="1026.67" stroke="#000" stroke-width="1.5"/>
<line x1="84.6" y1="1005.54" x2="97" y2="1005.54" stroke="#000" stroke-width="1.5"/>
<line x1="84.6" y1="1026.67" x2="97" y2="1026.67" stroke="#000" stroke-width="1.5"/>
<line x1="93.19" y1="935.44" x2="93.19" y2="1042.45" stroke="#000" stroke-width="1.5"/>
<line x1="86.99" y1="935.44" x2="99.39" y2="935.44" stroke="#000" stroke-width="1.5"/>
<line x1="86.99" y1="1042.45" x2="99.39" y2="1042.45" stroke="#000" stroke-width="1.5"/>
<line x1="95.57" y1="996.35" x2="95.57" y2="1041.08" stroke="#000" stroke-width="1.5"/>
<line x1="89.37" y1="996.35" x2="101.77" y2="996.35" stroke="#000" stroke-width="1.5"/>
<line x1="89.37" y1="1041.08" x2="101.77" y2="1041.08" stroke="#000" stroke-width="1.5"/>
<line x1="100.34" y1="998.82" x2="100.34" y2="1069.07" stroke="#000" stroke-width="1.5"/>
<line x1="94.14" y1="998.82" x2="106.55" y2="998.82" stroke="#000" stroke-width="1.5"/>
<line x1="94.14" y1="1069.07" x2="106.55" y2="1069.07" stroke="#000" stroke-width="1.5"/>
<line x1="109.89" y1="1009.94" x2="109.89" y2="1076.89" stroke="#000" stroke-width="1.5"/>
<line x1="103.69" y1="1009.94" x2="116.09" y2="1009.94" stroke="#000" stroke-width="1.5"/>
<line x1="103.69" y1="1076.89" x2="116.09" y2="1076.89" stroke="#000" stroke-width="1.5"/>
<line x1="119.44" y1="1017.48" x2="119.44" y2="1069.89" stroke="#000" stroke-width="1.5"/>
<line x1="113.23" y1="1017.48" x2="125.64" y2="1017.48" stroke="#000" stroke-width="1.5"/>
<line x1="113.23" y1="1069.89" x2="125.64" y2="1069.89" stroke="#000" stroke-width="1.5"/>
<line x1="133.75" y1="1024.62" x2="133.75" y2="1060.84" stroke="#000" stroke-width="1.5"/>
<line x1="127.55" y1="1024.62" x2="139.95" y2="1024.62" stroke="#000" stroke-width="1.5"/>
<line x1="127.55" y1="1060.84" x2="139.95" y2="1060.84" stroke="#000" stroke-width="1.5"/>
<line x1="148.07" y1="1018.17" x2="148.07" y2="1056.58" stroke="#000" stroke-width="1.5"/>
<line x1="141.87" y1="1018.17" x2="154.27" y2="1018.17" stroke="#000" stroke-width="1.5"/>
<line x1="141.87" y1="1056.58" x2="154.27" y2="1056.58" stroke="#000" stroke-width="1.5"/>
<line x1="162.39" y1="1001.98" x2="162.39" y2="1040.39" stroke="#000" stroke-width="1.5"/>
<line x1="156.19" y1="1001.98" x2="168.59" y2="1001.98" stroke="#000" stroke-width="1.5"/>
<line x1="156.19" y1="1040.39" x2="168.59" y2="1040.39" stroke="#000" stroke-width="1.5"/>
<line x1="181.48" y1="1030.1" x2="181.48" y2="1035.59" stroke="#000" stroke-width="1.5"/>
<line x1="175.28" y1="1030.1" x2="187.68" y2="1030.1" stroke="#000" stroke-width="1.5"/>
<line x1="175.28" y1="1035.59" x2="187.68" y2="1035.59" stroke="#000" stroke-width="1.5"/>
<line x1="205.34" y1="1021.73" x2="205.34" y2="1067.56" stroke="#000" stroke-width="1.5"/>
<line x1="199.14" y1="1021.73" x2="211.54" y2="1021.73" stroke="#000" stroke-width="1.5"/>
<line x1="199.14" y1="1067.56" x2="211.54" y2="1067.56" stroke="#000" stroke-width="1.5"/>
<line x1="319.88" y1="1017.07" x2="319.88" y2="1048.63" stroke="#000" stroke-width="1.5"/>
<line x1="313.68" y1="1017.07" x2="326.08" y2="1017.07" stroke="#000" stroke-width="1.5"/>
<line x1="313.68" y1="1048.63" x2="326.08" y2="1048.63" stroke="#000" stroke-width="1.5"/>
<line x1="434.42" y1="1044.51" x2="434.42" y2="1067.01" stroke="#000" stroke-width="1.5"/>
<line x1="428.22" y1="1044.51" x2="440.62" y2="1044.51" stroke="#000" stroke-width="1.5"/>
<line x1="428.22" y1="1067.01" x2="440.62" y2="1067.01" stroke="#000" stroke-width="1.5"/>
<line x1="548.96" y1="991.69" x2="548.96" y2="1041.08" stroke="#000" stroke-width="1.5"/>
<line x1="542.76" y1="991.69" x2="555.16" y2="991.69" stroke="#000" stroke-width="1.5"/>
<line x1="542.76" y1="1041.08" x2="555.16" y2="1041.08" stroke="#000" stroke-width="1.5"/>
<line x1="663.5" y1="1004.31" x2="663.5" y2="1042.73" stroke="#000" stroke-width="1.5"/>
<line x1="657.3" y1="1004.31" x2="669.7" y2="1004.31" stroke="#000" stroke-width="1.5"/>
<line x1="657.3" y1="1042.73" x2="669.7" y2="1042.73" stroke="#000" stroke-width="1.5"/>
<circle cx="90.8" cy="1016.11" r="5.6" fill="#000"/>
<circle cx="93.19" cy="988.94" r="5.6" fill="#000"/>
<circle cx="95.57" cy="1018.72" r="5.6" fill="#000"/>
<circle cx="100.34" cy="1033.95" r="5.6" fill="#000"/>
<circle cx="109.89" cy="1043.41" r="5.6" fill="#000"/>
<circle cx="119.44" cy="1043.69" r="5.6" fill="#000"/>
<circle cx="133.75" cy="1042.73" r="5.6" fill="#000"/>
<circle cx="148.07" cy="1037.38" r="5.6" fill="#000"/>
<circle cx="162.39" cy="1021.19" r="5.6" fill="#000"/>
<circle cx="181.48" cy="1032.85" r="5.6" fill="#000"/>
<circle cx="205.34" cy="1044.65" r="5.6" fill="#000"/>
<circle cx="319.88" cy="1032.85" r="5.6" fill="#000"/>
<circle cx="434.42" cy="1055.76" r="5.6" fill="#000"/>
<circle cx="548.96" cy="1016.38" r="5.6" fill="#000"/>
<circle cx="663.5" cy="1023.52" r="5.6" fill="#000"/>
<line x1="388.6" y1="1119.9" x2="388.6" y2="1320.4" stroke="#333" stroke-width="1.05"/>
<line x1="385.6" y1="1319.9" x2="673.1" y2="1319.9" stroke="#333" stroke-width="1.05"/>
<text x="378.7" y="1324.6" font-size="12.4" text-anchor="end" fill="#111" letter-spacing="0.3">0.15</text>
<line x1="385.6" y1="1256.97" x2="388.6" y2="1256.97" stroke="#333" stroke-width="1.05"/>
<text x="378.7" y="1261.87" font-size="12.4" text-anchor="end" fill="#111" letter-spacing="0.3">0.20</text>
<line x1="385.6" y1="1194.24" x2="388.6" y2="1194.24" stroke="#333" stroke-width="1.05"/>
<text x="378.7" y="1199.14" font-size="12.4" text-anchor="end" fill="#111" letter-spacing="0.3">0.25</text>
<line x1="385.6" y1="1131.51" x2="388.6" y2="1131.51" stroke="#333" stroke-width="1.05"/>
<text x="378.7" y="1136.41" font-size="12.4" text-anchor="end" fill="#111" letter-spacing="0.3">0.30</text>
<line x1="393.6" y1="1319.9" x2="393.6" y2="1322.9" stroke="#333" stroke-width="1.05"/>
<text x="393.6" y="1341" font-size="12.4" text-anchor="middle" fill="#111">0</text>
<line x1="440.1" y1="1319.9" x2="440.1" y2="1322.9" stroke="#333" stroke-width="1.05"/>
<text x="440.1" y="1341" font-size="12.4" text-anchor="middle" fill="#111">2</text>
<line x1="486.6" y1="1319.9" x2="486.6" y2="1322.9" stroke="#333" stroke-width="1.05"/>
<text x="486.6" y="1341" font-size="12.4" text-anchor="middle" fill="#111">4</text>
<line x1="533.1" y1="1319.9" x2="533.1" y2="1322.9" stroke="#333" stroke-width="1.05"/>
<text x="533.1" y="1341" font-size="12.4" text-anchor="middle" fill="#111">6</text>
<line x1="579.6" y1="1319.9" x2="579.6" y2="1322.9" stroke="#333" stroke-width="1.05"/>
<text x="579.6" y="1341" font-size="12.4" text-anchor="middle" fill="#111">8</text>
<line x1="626.1" y1="1319.9" x2="626.1" y2="1322.9" stroke="#333" stroke-width="1.05"/>
<text x="626.25" y="1341" font-size="12.4" text-anchor="middle" fill="#111" letter-spacing="0.3">10</text>
<line x1="672.6" y1="1319.9" x2="672.6" y2="1322.9" stroke="#333" stroke-width="1.05"/>
<text x="672.75" y="1341" font-size="12.4" text-anchor="middle" fill="#111" letter-spacing="0.3">12</text>
<line x1="380.2" y1="1181.19" x2="676.9" y2="1181.19" stroke="#444" stroke-width="1.2" stroke-dasharray="11.3 4.1" stroke-dashoffset="1.2"/>
<line x1="393.6" y1="1186.59" x2="393.6" y2="1205.91" stroke="#333" stroke-width="1.05"/>
<line x1="390.4" y1="1186.59" x2="396.8" y2="1186.59" stroke="#333" stroke-width="1.05"/>
<line x1="390.4" y1="1205.91" x2="396.8" y2="1205.91" stroke="#333" stroke-width="1.05"/>
<line x1="405.23" y1="1122.48" x2="405.23" y2="1220.34" stroke="#333" stroke-width="1.05"/>
<line x1="402.03" y1="1122.48" x2="408.43" y2="1122.48" stroke="#333" stroke-width="1.05"/>
<line x1="402.03" y1="1220.34" x2="408.43" y2="1220.34" stroke="#333" stroke-width="1.05"/>
<line x1="416.85" y1="1178.18" x2="416.85" y2="1219.08" stroke="#333" stroke-width="1.05"/>
<line x1="413.65" y1="1178.18" x2="420.05" y2="1178.18" stroke="#333" stroke-width="1.05"/>
<line x1="413.65" y1="1219.08" x2="420.05" y2="1219.08" stroke="#333" stroke-width="1.05"/>
<line x1="440.1" y1="1180.44" x2="440.1" y2="1244.67" stroke="#333" stroke-width="1.05"/>
<line x1="436.9" y1="1180.44" x2="443.3" y2="1180.44" stroke="#333" stroke-width="1.05"/>
<line x1="436.9" y1="1244.67" x2="443.3" y2="1244.67" stroke="#333" stroke-width="1.05"/>
<line x1="486.6" y1="1190.6" x2="486.6" y2="1251.83" stroke="#333" stroke-width="1.05"/>
<line x1="483.4" y1="1190.6" x2="489.8" y2="1190.6" stroke="#333" stroke-width="1.05"/>
<line x1="483.4" y1="1251.83" x2="489.8" y2="1251.83" stroke="#333" stroke-width="1.05"/>
<line x1="533.1" y1="1197.5" x2="533.1" y2="1245.43" stroke="#333" stroke-width="1.05"/>
<line x1="529.9" y1="1197.5" x2="536.3" y2="1197.5" stroke="#333" stroke-width="1.05"/>
<line x1="529.9" y1="1245.43" x2="536.3" y2="1245.43" stroke="#333" stroke-width="1.05"/>
<line x1="602.85" y1="1204.03" x2="602.85" y2="1237.15" stroke="#333" stroke-width="1.05"/>
<line x1="599.65" y1="1204.03" x2="606.05" y2="1204.03" stroke="#333" stroke-width="1.05"/>
<line x1="599.65" y1="1237.15" x2="606.05" y2="1237.15" stroke="#333" stroke-width="1.05"/>
<line x1="672.6" y1="1198.13" x2="672.6" y2="1233.26" stroke="#333" stroke-width="1.05"/>
<line x1="669.4" y1="1198.13" x2="675.8" y2="1198.13" stroke="#333" stroke-width="1.05"/>
<line x1="669.4" y1="1233.26" x2="675.8" y2="1233.26" stroke="#333" stroke-width="1.05"/>
<circle cx="393.6" cy="1196.25" r="2.7" fill="#000"/>
<circle cx="405.23" cy="1171.41" r="2.7" fill="#000"/>
<circle cx="416.85" cy="1198.63" r="2.7" fill="#000"/>
<circle cx="440.1" cy="1212.56" r="2.7" fill="#000"/>
<circle cx="486.6" cy="1221.21" r="2.7" fill="#000"/>
<circle cx="533.1" cy="1221.46" r="2.7" fill="#000"/>
<circle cx="602.85" cy="1220.59" r="2.7" fill="#000"/>
<circle cx="672.6" cy="1215.69" r="2.7" fill="#000"/>
</svg>
</body>
</html>
